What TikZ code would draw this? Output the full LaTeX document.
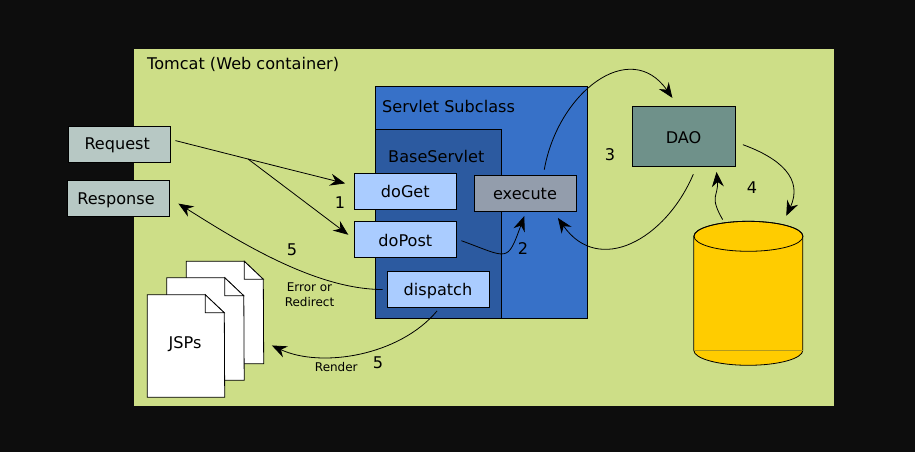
\documentclass[tikz,border=0pt]{standalone}
\usepackage{fontspec}
\setmainfont{DejaVu Sans}
\usetikzlibrary{arrows.meta}

\definecolor{pagecolor}{HTML}{0D0D0D}
\definecolor{tomcatcolor}{HTML}{CDDE87}
\definecolor{servletcolor}{HTML}{3771C8}
\definecolor{basecolor}{HTML}{2C5AA0}
\definecolor{methodcolor}{HTML}{AACCFF}
\definecolor{executecolor}{HTML}{939DAC}
\definecolor{daocolor}{HTML}{6F918A}
\definecolor{httpcolor}{HTML}{B7C8C4}
\definecolor{dbcolor}{HTML}{FFCC00}
\definecolor{dblinecolor}{HTML}{B39A1E}

\tikzset{
    box/.style={draw,line width=.8pt,inner sep=0pt,text height=15pt,text depth=3pt,font=\fontsize{16.1}{19}\selectfont},
    method/.style={box,fill=methodcolor,minimum width=102pt,minimum height=36pt},
    http/.style={box,fill=httpcolor,minimum width=102pt,minimum height=36pt},
    jsppage/.style={inner sep=0pt,minimum width=77pt,minimum height=102pt},
    caption/.style={inner sep=0pt,text height=15pt,text depth=3pt,font=\fontsize{16.1}{19}\selectfont},
    small/.style={inner sep=0pt,align=center,font=\fontsize{12}{15.4}\selectfont},
}

\newcommand{\jspsheet}[3]{
    \node[jsppage] (#1) at (#2,#3) {};
    \draw[line width=.8pt,fill=white] (#1.north west) -- ++(58,0) -- ++(19,-18)
        -- (#1.south east) -- (#1.south west) -- cycle;
    \draw[line width=.8pt,fill=white] (#1.north west) ++(58,0) -- ++(0,-18) -- ++(19,0) -- cycle;
}

\begin{document}
\begin{tikzpicture}[x=1pt,y=1pt,>={Stealth[length=15pt,width=12pt,inset=5pt]}]
\useasboundingbox (0,0) rectangle (915,-452);
\fill[pagecolor] (0,0) rectangle (915,-452);

\begin{scope}

    \node[fill=tomcatcolor,inner sep=0pt,minimum width=700pt,minimum height=357pt] (tomcat) at (484,-227.5) {};
    \node[caption,anchor=west] (tomcatlabel) at (147,-64) {Tomcat (Web container)};

    \node[box,fill=servletcolor,minimum width=212pt,minimum height=232pt] (servlet) at (481.5,-202) {};
    \node[caption,anchor=west] (servletlabel) at (382,-106.7) {Servlet Subclass};

    \node[box,fill=basecolor,minimum width=126pt,minimum height=189pt] (base) at (438.5,-223.5) {};
    \node[caption,anchor=west] (baselabel) at (388,-156) {BaseServlet};

    \node[method] (doget) at (405.3,-191) {doGet};
    \node[method,text height=17pt] (dopost) at (405.3,-239) {doPost};
    \node[method] (dispatch) at (438,-289.5) {dispatch};
    \node[box,fill=executecolor,minimum width=102pt,minimum height=36pt] (execute) at (525,-193) {execute};

    \node[http,text height=13pt] (request) at (119.7,-144) {Request\kern5pt};
    \node[http] (response) at (118.5,-198.3) {Response\kern5pt};

    \node[box,fill=daocolor,minimum width=103pt,minimum height=60pt,text height=17.5pt] (dao) at (683.5,-136.5) {DAO};

    \node[inner sep=0pt,minimum width=109pt,minimum height=144pt] (db) at (748.5,-293.5) {};
    \draw[line width=.8pt,fill=dbcolor] (db.north west) ++(0,-15) -- ++(0,-114)
        arc[start angle=180,end angle=360,x radius=54.5,y radius=15] -- ++(0,114)
        arc[start angle=0,end angle=180,x radius=54.5,y radius=15] -- cycle;
    \draw[line width=.8pt] (db.north) ++(0,-15) ellipse[x radius=54.5,y radius=15];
    \draw[dblinecolor,line width=.8pt] (694.4,-350.5) -- (802.6,-350.5);

    \jspsheet{jspback}{225}{-312.5}
    \jspsheet{jspmiddle}{205.5}{-329}
    \jspsheet{jspfront}{186}{-346}
    \node[caption] (jsplabel) at (185,-342.7) {JSPs};

    \coordinate (split) at (248,-159);

    \node[caption] (stepa) at (340,-202) {1};
    \node[caption] (stepb) at (523,-248) {2};
    \node[caption] (stepc) at (610,-154.7) {3};
    \node[caption] (stepd) at (752,-187.3) {4};
    \node[caption] (stepe) at (292,-249) {5};
    \node[caption] (stepf) at (378,-362.7) {5};
    \node[small] (errorlabel) at (309.5,-294.5) {Error or\\Redirect};
    \node[small] (renderlabel) at (336.3,-367) {Render};

\end{scope}

\begin{scope} [every edge/.style={draw,line width=.8pt}]

    \path (request.5) edge[shorten <=4.5pt] (split);
    \path[->] (split) edge[shorten >=9pt] (doget.174);
    \path[->] (split) edge[shorten >=7pt] (dopost.west);

    \path[->] (dopost.east) edge[out=-20,in=-110,looseness=1.9,shorten <=5pt,shorten >=5pt] (execute.-87);
    \path[->] (execute.45) edge[out=80,in=125,looseness=1.42,shorten <=5pt,shorten >=10pt] (dao.100);
    \path[->] (dao.-67) edge[out=-113,in=-55,looseness=1.35,shorten <=8pt,shorten >=8pt] (execute.-33);
    \path[->] (dao.-6) edge[out=-20,in=65,looseness=1.3,shorten <=8pt,shorten >=6pt] (db.64);
    \path[->] (db.109) edge[out=120,in=-85,looseness=1.4,shorten <=2pt,shorten >=5pt] (dao.-43);

    \path[->] (dispatch.west) edge[out=180,in=-32,looseness=.8,shorten <=4pt,shorten >=10pt] (response.east);
    \path[->] (dispatch.-85) edge[out=-130,in=-25,looseness=.9,shorten <=4pt,shorten >=9pt] (jspback.-37);

\end{scope}

\end{tikzpicture}
\end{document}
